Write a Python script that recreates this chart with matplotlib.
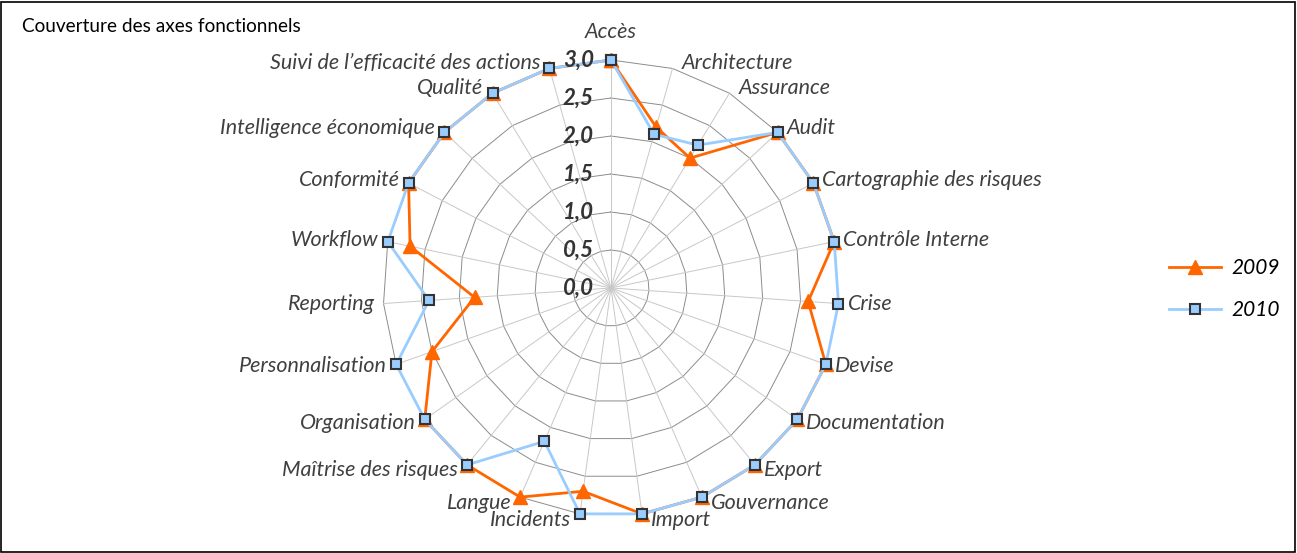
import matplotlib
matplotlib.use("Agg")
import matplotlib.pyplot as plt
import numpy as np

plt.rcParams['font.family'] = ['Lato', 'DejaVu Sans']

axes_names = ["Accès", "Architecture", "Assurance", "Audit", "Cartographie des risques",
              "Contrôle Interne", "Crise", "Devise", "Documentation", "Export",
              "Gouvernance", "Import", "Incidents", "Langue", "Maîtrise des risques",
              "Organisation", "Personnalisation", "Reporting", "Workflow", "Conformité",
              "Intelligence économique", "Qualité", "Suivi de l\u2019efficacité des actions"]
v2009 = [3.0, 2.2, 2.0, 3.0, 3.0, 3.0, 2.6, 3.0, 3.0, 3.0, 3.0, 3.0,
         2.7, 3.0, 3.0, 3.0, 2.5, 1.8, 2.7, 3.0, 3.0, 3.0, 3.0]
v2010 = [3.0, 2.1, 2.2, 3.0, 3.0, 3.0, 3.0, 3.0, 3.0, 3.0, 3.0, 3.0,
         3.0, 2.2, 3.0, 3.0, 3.0, 2.4, 3.0, 3.0, 3.0, 3.0, 3.0]
rings = [0.0, 0.5, 1.0, 1.5, 2.0, 2.5, 3.0]
ring_labels = ["0,0", "0,5", "1,0", "1,5", "2,0", "2,5", "3,0"]

W, H = 1297, 553
fig = plt.figure(figsize=(W / 100, H / 100), dpi=100)
cx, cy, R = 611, 288, 228
ax = fig.add_axes([(cx - R) / W, (H - cy - R) / H, 2 * R / W, 2 * R / H], projection='polar')
ax.set_theta_zero_location('N')
ax.set_theta_direction(-1)
ax.set_ylim(0, 3.0)
ax.grid(False)
ax.set_xticks([])
ax.set_yticks([])
ax.spines['polar'].set_visible(False)
ax.patch.set_alpha(0)

n = len(axes_names)
theta = np.arange(n) * 2 * np.pi / n
closed = np.append(theta, theta[0])

# polygon gridlines and spokes
for r in rings[1:]:
    ax.plot(closed, [r] * (n + 1), color='#8c8c8c', lw=0.7, zorder=1, clip_on=False)
for t in theta:
    ax.plot([t, t], [0, 3.0], color='#c8c8c8', lw=0.7, zorder=1, clip_on=False)

ax.plot(closed, v2009 + v2009[:1], color='#ff6600', lw=2, marker='^', ms=10,
        mfc='#ff6600', mec='#ff6600', zorder=3, clip_on=False, label='2009')
ax.plot(closed, v2010 + v2010[:1], color='#99ccff', lw=2, marker='s', ms=7.5,
        mfc='#99ccff', mec='#333333', mew=1.5, zorder=4, clip_on=False, label='2010')

for r, lab in zip(rings, ring_labels):
    ax.annotate(lab, xy=(0, r), xytext=(-17, 0), textcoords='offset pixels',
                ha='right', va='center', fontsize=16, fontweight='bold',
                fontstyle='italic', color='#333333', zorder=5)

for t, name in zip(theta, axes_names):
    s, c = np.sin(t), np.cos(t)
    if abs(s) < 0.05:
        ha, va, dx, dy = 'center', 'bottom', 0, 18
    else:
        ha = 'left' if s > 0 else 'right'
        va = 'center'
        dx = 9 if s > 0 else -9
        dy = 6 * c
    ax.annotate(name, xy=(t, 3.0), xytext=(dx, dy), textcoords='offset pixels',
                ha=ha, va=va, fontsize=15.5, fontstyle='italic', color='#404040')

fig.text(22 / W, 1 - 27 / H, "Couverture des axes fonctionnels", fontsize=13.7,
         ha='left', va='center', color='black')

leg = fig.legend(loc='center left', bbox_to_anchor=(1150 / W, 1 - 289 / H), frameon=False,
                 prop={'size': 15, 'style': 'italic'}, handlelength=2.5, handletextpad=0.5,
                 labelspacing=1.05)

fig.patches.append(plt.Rectangle((1 / W, 1 / H), 1 - 3 / W, 1 - 3 / H, transform=fig.transFigure,
                                 fill=False, edgecolor='black', lw=1.2))

fig.savefig('out.png', dpi=100)
